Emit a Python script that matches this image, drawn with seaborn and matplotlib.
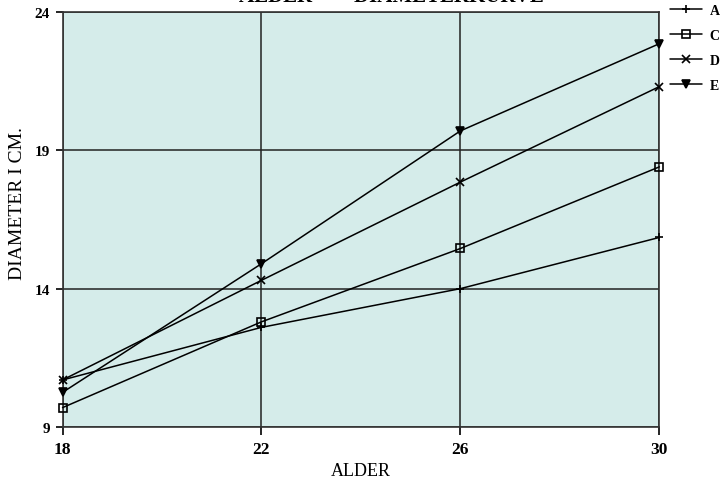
import pandas as pd
import matplotlib.pyplot as plt
import seaborn as sns

alder = [18, 22, 26, 30]
serie_a = [10.7, 12.6, 14.0, 15.85]
serie_c = [9.7, 12.8, 15.45, 18.4]
serie_d = [10.7, 14.3, 17.85, 21.3]
serie_e = [10.25, 14.9, 19.7, 22.85]
serier = ["A", "C", "D", "E"]
yticks = [9, 14, 19, 24]

df = pd.DataFrame({
    "alder": alder * 4,
    "diameter": serie_a + serie_c + serie_d + serie_e,
    "serie": [s for s in serier for _ in alder],
})

sns.set_theme(style="white")
plt.rcParams['font.family'] = ['Liberation Serif', 'DejaVu Serif']
plt.rcParams['text.color'] = 'black'
plt.rcParams['axes.labelcolor'] = 'black'
plt.rcParams['xtick.color'] = 'black'
plt.rcParams['ytick.color'] = 'black'

fig = plt.figure(figsize=(7.27, 4.85), dpi=100)
ax = fig.add_axes([0.086, 0.1175, 0.821, 0.856])
ax.set_facecolor("#d5ecea")
fig.patch.set_facecolor("white")

markers = {"A": "+", "C": "s", "D": "x", "E": "v"}
for s in serier:
    sub = df[df["serie"] == s]
    fc = "black" if s == "E" else "none"
    sns.lineplot(data=sub, x="alder", y="diameter", marker=markers[s],
                 color="black", linewidth=1.1, markersize=6,
                 markerfacecolor=fc, markeredgecolor="black", markeredgewidth=1.2,
                 ax=ax, label=s, legend=False, clip_on=False, zorder=3)

ax.set_xlim(18, 30)
ax.set_ylim(9, 24)
ax.set_xticks(alder)
ax.set_yticks(yticks)
ax.set_xticklabels([str(a) for a in alder], fontweight="bold", fontsize=12.5)
ax.set_yticklabels([str(v) for v in yticks], fontweight="bold", fontsize=11)
ax.tick_params(axis="x", direction="out", length=6, width=1.2, color="black",
               bottom=True, pad=4)
ax.tick_params(axis="y", direction="out", length=5, width=1.2, color="black",
               left=True, pad=4)
ax.grid(True, color="#222222", linewidth=1.1)
for sp in ax.spines.values():
    sp.set_color("#333333")
    sp.set_linewidth(1.2)

ax.set_xlabel("ALDER", fontsize=13, labelpad=4)
ax.set_ylabel("DIAMETER I CM.", fontsize=14)
ax.yaxis.set_label_coords(-0.062, 0.54)

# title is cut off at the top edge, as in the scanned original
fig.text(0.539, 0.995, "ALDER  —  DIAMETERKURVE", ha="center", va="baseline",
         fontsize=15, fontweight="bold")

# legend outside, right
handles, labels = ax.get_legend_handles_labels()
fig.legend(handles, labels, loc="upper left", bbox_to_anchor=(0.921, 0.99),
           frameon=False, handlelength=2.37, labelspacing=0.86, borderpad=0,
           borderaxespad=0, handletextpad=0.5,
           prop={"weight": "bold", "size": 10})

fig.savefig("out.png", dpi=100)
